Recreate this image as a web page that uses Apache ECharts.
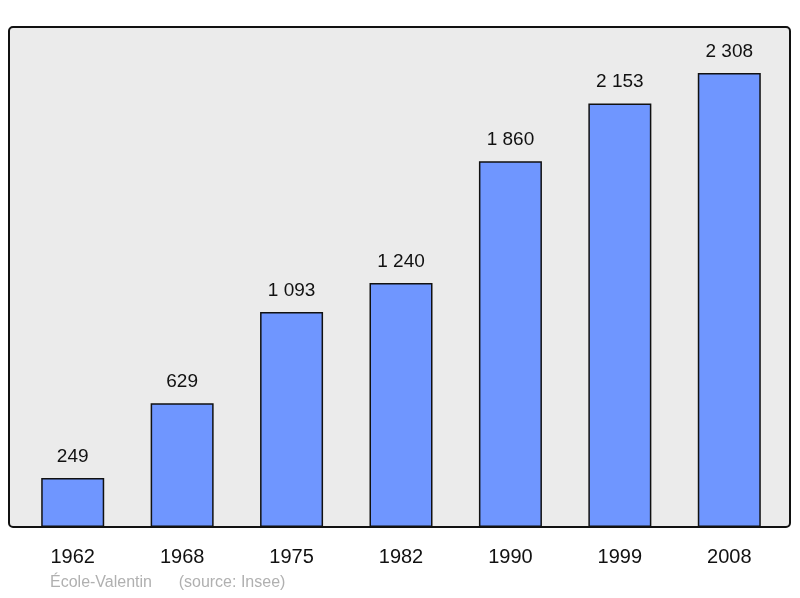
<!DOCTYPE html>
<html>
<head>
<meta charset="utf-8">
<script src="https://cdn.jsdelivr.net/npm/echarts@6/dist/echarts.min.js"></script>
<style>html,body{margin:0;padding:0;background:#fff}#main{width:800px;height:598px}</style>
</head>
<body>
<div id="main"></div>
<script>
var years = ['1962', '1968', '1975', '1982', '1990', '1999', '2008'];
var population = [249, 629, 1093, 1240, 1860, 2153, 2308];

var chart = echarts.init(document.getElementById('main'));
var option = {
    animation: false,
    grid: { left: 18, right: 16, top: 27, bottom: 71 },
    // fond gris avec coins arrondis
    graphic: [{
        type: 'rect',
        z: -10,
        shape: { x: 9, y: 27, width: 781, height: 500, r: 4 },
        style: { fill: '#ebebeb', stroke: '#111', lineWidth: 2 }
    }, {
        type: 'text',
        left: 50, top: 575,
        style: { text: 'École-Valentin      (source: Insee)', fill: '#b0b0b0', font: '16px "Liberation Sans", Arial' }
    }],
    xAxis: {
        type: 'category',
        data: years,
        axisLine: { show: false },
        axisTick: { show: false },
        axisLabel: { color: '#111', fontSize: 20, fontFamily: 'Liberation Sans', margin: 20 }
    },
    yAxis: {
        type: 'value',
        min: 0, max: 2542,
        show: false,
        splitLine: { show: false }
    },
    series: [{
        type: 'bar',
        data: population,
        barWidth: 63,
        itemStyle: { color: '#6f96ff', borderColor: '#111', borderWidth: 1.5 },
        label: {
            show: true,
            position: 'top',
            distance: 12,
            color: '#111',
            fontSize: 19,
            fontFamily: 'Liberation Sans',
            formatter: function (p) {
                return String(p.value).replace(/\B(?=(\d{3})+(?!\d))/g, ' ');
            }
        }
    }]
};
chart.setOption(option);
</script>
</body>
</html>
